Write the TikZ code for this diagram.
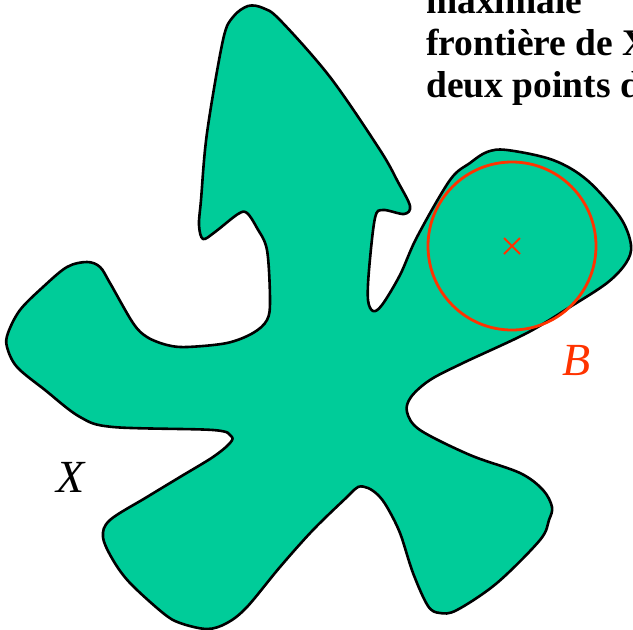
\documentclass[tikz,border=0pt]{standalone}
\usepackage{fontspec}
\setmainfont{Liberation Serif}
\usetikzlibrary{positioning}
\definecolor{vert}{RGB}{0,204,153}
\definecolor{rouge}{RGB}{255,51,0}

\begin{document}
\begin{tikzpicture}[x=1pt,y=-1pt,forme/.style={draw=black,fill=vert,line width=2.6pt,line join=round},
boule/.style={draw=rouge,line width=2.8pt},t/.style={anchor=base west,inner sep=0pt,font=\fontsize{37.5}{42}\selectfont\bfseries},
lab/.style={anchor=base west,inner sep=0pt,font=\fontsize{46}{50}\selectfont\itshape}]
\useasboundingbox (0,0) rectangle (633,630);
\clip (0,0) rectangle (633,630);
\draw[forme] plot[smooth cycle,tension=0.55] coordinates {(248,6) (263,8) (280,20) (330,77) (380,150) (398,182) (410,206) (404,214) (383,210) (375,218) (369,270) (368,300) (373,311) (382,305) (400,275) (417,237) (450,180) (470,163) (487,152) (507,150) (553,160) (587,180) (620,217) (631,245) (626,263) (607,283) (570,307) (527,333) (463,363) (430,380) (411,397) (407,412) (420,430) (470,455) (520,473) (543,490) (552,507) (549,520) (540,540) (497,583) (457,610) (440,613) (428,606) (413,573) (400,533) (387,507) (378,495) (368,488) (358,487) (347,497) (313,530) (280,567) (247,607) (227,623) (207,629) (180,623) (163,613) (130,583) (113,560) (103,537) (110,520) (147,497) (180,477) (213,457) (230,443) (231,436) (213,430) (113,427) (80,417) (45,390) (17,367) (7,347) (8,333) (20,310) (43,287) (67,267) (87,262) (100,267) (110,283) (133,323) (147,337) (167,345) (187,347) (227,343) (253,333) (267,320) (270,300) (267,250) (257,228) (247,213) (238,214) (215,232) (203,239) (199,225) (201,200) (207,133) (223,40) (233,17)};
% boule maximale
\node[circle,boule,minimum size=168pt,inner sep=0pt] (b) at (512,246) {};
\draw[rouge,line width=2pt] (504,238)--(520,254) (504,254)--(520,238);
\node[lab,text=rouge] (lb) at (562,375) {B};
\node[lab] (lx) at (56,492) {X};
% texte
\node[t] (l1) at (426,13) {maximale};
\node[t] (l2) at (426,55) {frontière de X};
\node[t] (l3) at (426,97) {deux points de};
\end{tikzpicture}
\end{document}
